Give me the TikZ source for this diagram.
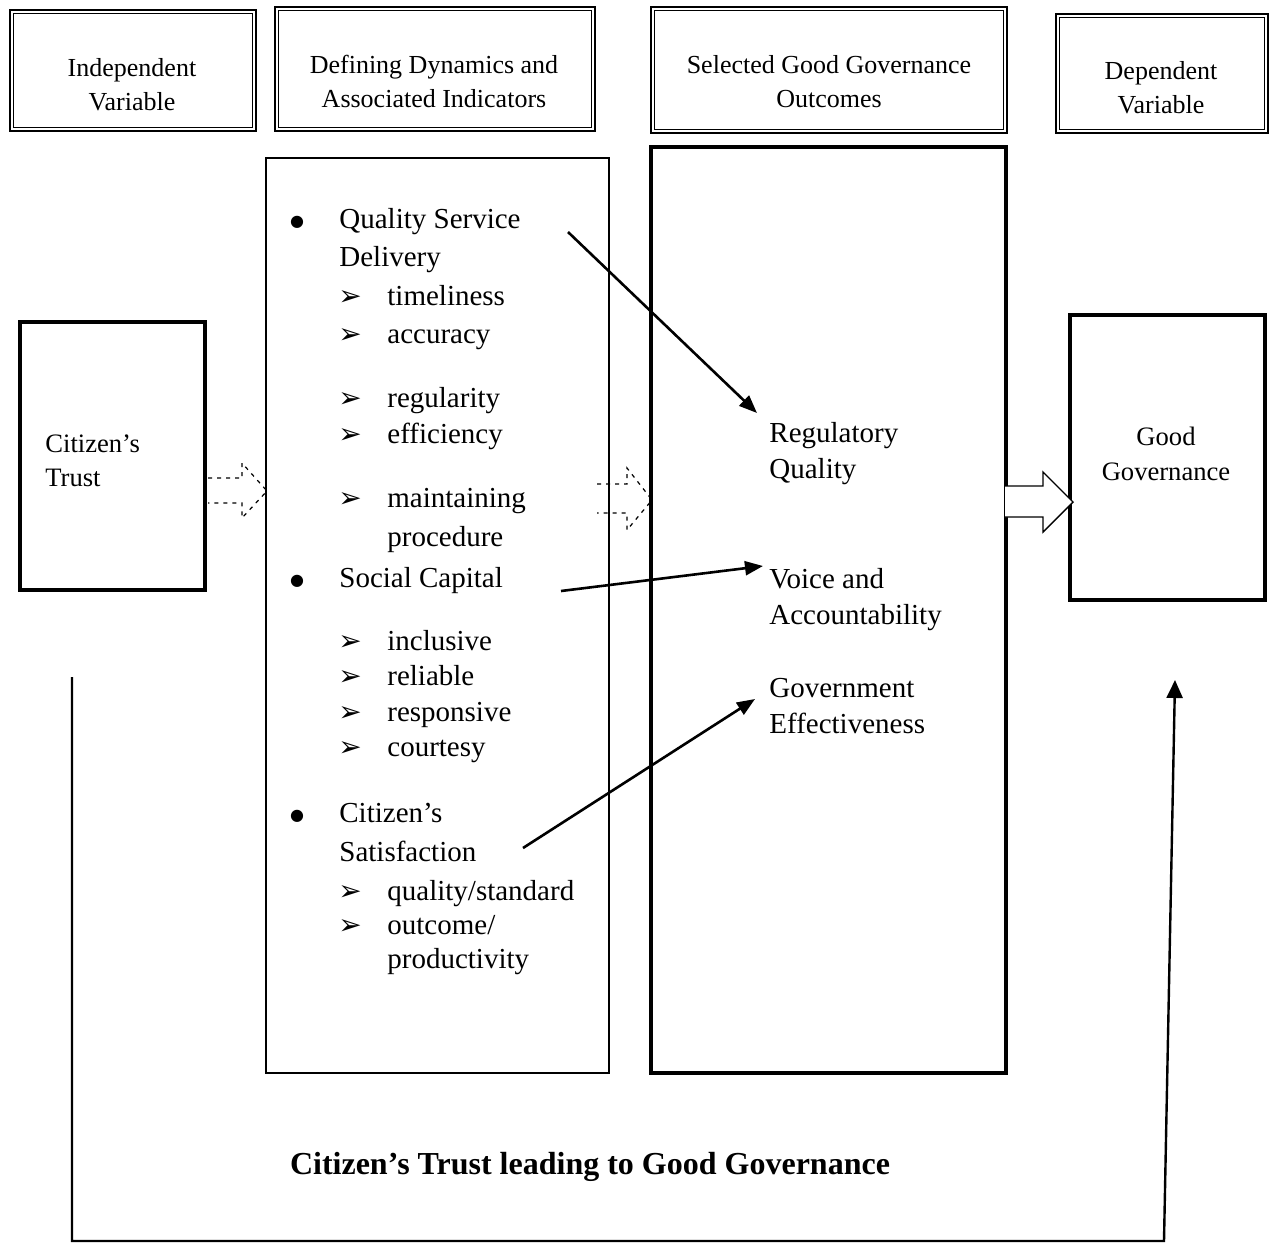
\documentclass[tikz,border=0pt]{standalone}
\usepackage{fontspec}
\setmainfont{Liberation Serif}
\newfontfamily\dingfont{DejaVu Sans}
\usetikzlibrary{arrows.meta}
\begin{document}
\begin{tikzpicture}[x=0.5pt,y=-0.5pt,
  hdrout/.style={draw,line width=1.1pt},
  hdrin/.style={draw,line width=0.4pt},
  mainbox/.style={draw,line width=1.6pt},
  hdrtxt/.style={font=\fontsize{13}{17}\selectfont,align=center,inner sep=0pt},
  txt/.style={font=\fontsize{14.5}{19}\selectfont,anchor=base west,inner sep=0pt},
  sidetxt/.style={font=\fontsize{13.3}{17}\selectfont,anchor=base west,inner sep=0pt},
  dot/.style={font=\dingfont\fontsize{8}{10}\selectfont,anchor=base,inner sep=0pt},
  tip/.style={font=\dingfont\bfseries\fontsize{14}{15}\selectfont,anchor=base,inner sep=0pt},
  link/.style={line width=1.3pt,-{Triangle[length=9pt,width=7pt]}},
  hollow/.style={line width=0.7pt},
  hollowdash/.style={line width=0.6pt,dash pattern=on 2pt off 2.5pt}]
\useasboundingbox (0,0) rectangle (1275,1243);

% column headers: heavy outer frame with a thin inner rule
\foreach \xa/\ya/\xb/\yb in {10/10/256/131, 275/7/595/131, 651/7/1007/133, 1056/14/1268/133}{
  \draw[hdrout] (\xa,\ya) rectangle (\xb,\yb);
  \draw[hdrin] (\xa+3.5,\ya+3.5) rectangle (\xb-3.5,\yb-3.5);
}
\node[hdrtxt] (h1) at (132,85) {Independent\\Variable};
\node[hdrtxt] (h2) at (434,81) {Defining Dynamics and\\Associated Indicators};
\node[hdrtxt] (h3) at (829,82) {Selected Good Governance\\Outcomes};
\node[hdrtxt] (h4) at (1161,88) {Dependent\\Variable};

% main boxes
\draw[mainbox] (20,322) rectangle (205,590);
\draw[mainbox,line width=1.2pt] (266,158) rectangle (609,1073);
\draw[mainbox] (651,147) rectangle (1006,1073);
\draw[mainbox] (1070,315) rectangle (1265,600);

% independent variable
\node[sidetxt] (ct1) at (45,452) {Citizen’s};
\node[sidetxt] (ct2) at (45,486) {Trust};

% dependent variable
\node[sidetxt,anchor=base] (gg1) at (1166,445) {Good};
\node[sidetxt,anchor=base] (gg2) at (1166,480) {Governance};

% indicators
\node[dot] (b1) at (297,226) {●};
\node[txt] (q1) at (339,228) {Quality Service};
\node[txt] (q2) at (339,266) {Delivery};
\node[tip] (t1) at (350,305) {➢};
\node[txt] (q3) at (387,305) {timeliness};
\node[tip] (t2) at (350,343) {➢};
\node[txt] (q4) at (387,343) {accuracy};
\node[tip] (t3) at (350,407) {➢};
\node[txt] (q5) at (387,407) {regularity};
\node[tip] (t4) at (350,443) {➢};
\node[txt] (q6) at (387,443) {efficiency};
\node[tip] (t5) at (350,507) {➢};
\node[txt] (q7) at (387,507) {maintaining};
\node[txt] (q8) at (387,546) {procedure};
\node[dot] (b2) at (297,585) {●};
\node[txt] (s1) at (339,587) {Social Capital};
\node[tip] (t6) at (350,650) {➢};
\node[txt] (s2) at (387,650) {inclusive};
\node[tip] (t7) at (350,685) {➢};
\node[txt] (s3) at (387,685) {reliable};
\node[tip] (t8) at (350,721) {➢};
\node[txt] (s4) at (387,721) {responsive};
\node[tip] (t9) at (350,756) {➢};
\node[txt] (s5) at (387,756) {courtesy};
\node[dot] (b3) at (297,820) {●};
\node[txt] (c1) at (339,822) {Citizen’s};
\node[txt] (c2) at (339,861) {Satisfaction};
\node[tip] (t10) at (350,900) {➢};
\node[txt] (c3) at (387,900) {quality/standard};
\node[tip] (t11) at (350,934) {➢};
\node[txt] (c4) at (387,934) {outcome/};
\node[txt] (c5) at (387,968) {productivity};

% outcomes
\node[txt] (o1) at (769,442) {Regulatory};
\node[txt] (o2) at (769,478) {Quality};
\node[txt] (o3) at (769,588) {Voice and};
\node[txt] (o4) at (769,624) {Accountability};
\node[txt] (o5) at (769,697) {Government};
\node[txt] (o6) at (769,733) {Effectiveness};

% indicator-to-outcome links
\coordinate (a1s) at (568,232);
\coordinate (a1e) at (757,413);
\coordinate (a2s) at (561,591);
\coordinate (a2e) at (763,566);
\coordinate (a3s) at (523,848);
\coordinate (a3e) at (755,699);
\draw[link] (a1s) -- (a1e);
\draw[link] (a2s) -- (a2e);
\draw[link] (a3s) -- (a3e);

% block arrows between columns
\draw[hollowdash] (208,478) -- (242,478) -- (242,463) -- (267,491) -- (242,518) -- (242,503) -- (208,503);
\draw[hollowdash] (597,484) -- (627,484) -- (627,468) -- (652,500) -- (627,530) -- (627,513) -- (597,513);
\draw[hollow,fill=white] (1005,486) -- (1043,486) -- (1043,472) -- (1073,502) -- (1043,532) -- (1043,517) -- (1005,517);

% caption
\node[font=\fontsize{16}{19}\selectfont\bfseries,inner sep=0pt] (cap) at (590,1167) {Citizen’s Trust leading to Good Governance};

% feedback loop from trust to governance
\coordinate (f1) at (72,677);
\coordinate (f2) at (72,1241);
\coordinate (f3) at (1164,1241);
\coordinate (f4) at (1175,680);
\draw[line width=1.2pt,-{Triangle[length=9pt,width=8pt]}] (f1) -- (f2) -- (f3) -- (f4);
\end{tikzpicture}
\end{document}
